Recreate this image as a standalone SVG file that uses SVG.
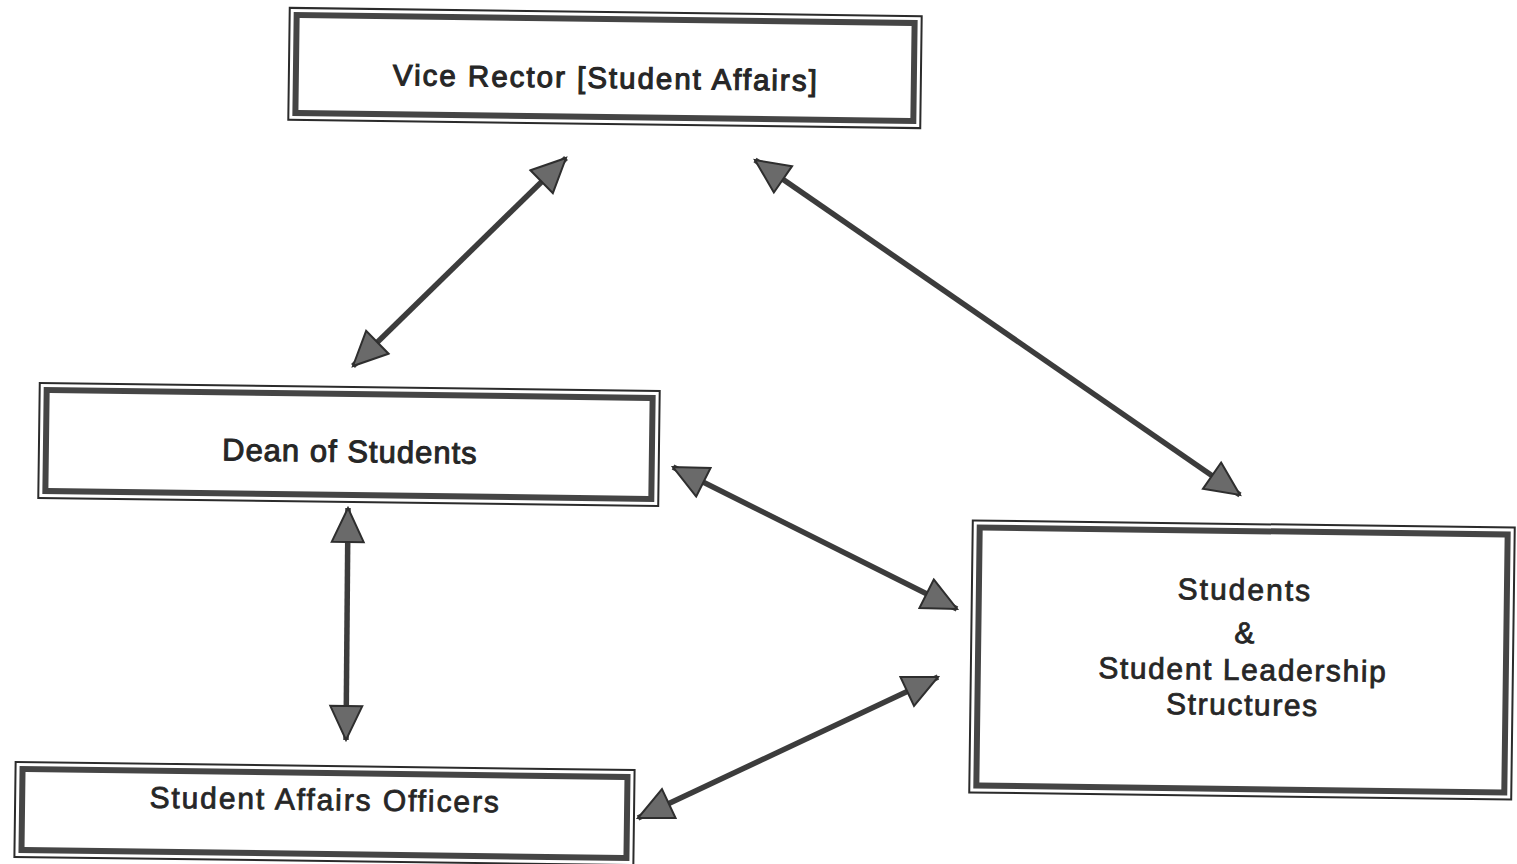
<svg xmlns="http://www.w3.org/2000/svg" width="1517" height="864" viewBox="0 0 1517 864">
  <style>
    .outer { fill: none; stroke: #2b2b2b; stroke-width: 2; }
    .inner { fill: #ffffff; stroke: #454545; stroke-width: 6; }
    .label { font-family: "Liberation Sans", Arial, sans-serif; font-size: 30px; fill: #262626; stroke: #262626; stroke-width: 0.8; text-anchor: middle; }
    .link { stroke: #3c3c3c; stroke-width: 5.5; fill: none; marker-start: url(#head); marker-end: url(#head); }
  </style>
  <defs>
    <marker id="head" markerUnits="userSpaceOnUse" markerWidth="40" markerHeight="40" viewBox="-2 -20 40 40" refX="34" refY="0" orient="auto-start-reverse">
      <path d="M0,-16 L34,0 L0,16 Z" fill="#6a6a6a" stroke="#2e2e2e" stroke-width="2" stroke-linejoin="miter"/>
    </marker>
  </defs>
  <rect width="1517" height="864" fill="#ffffff"/>

  <g id="connectors">
    <line class="link" x1="353" y1="366" x2="566" y2="158"/>
    <line class="link" x1="755" y1="160" x2="1240" y2="495"/>
    <line class="link" x1="673" y1="467" x2="957" y2="609"/>
    <line class="link" x1="348" y1="508" x2="346" y2="740"/>
    <line class="link" x1="638" y1="818" x2="938" y2="677"/>
  </g>

  <g id="vice-rector" transform="rotate(0.75 605 68)">
    <rect class="outer" x="289" y="12" width="632" height="112"/>
    <rect class="inner" x="296" y="19" width="618" height="98"/>
    <text class="label" x="606" y="88" style="font-size:29.5px; letter-spacing:2px; stroke-width:1.1">Vice Rector [Student Affairs]</text>
  </g>

  <g id="dean-of-students" transform="rotate(0.75 349 444)">
    <rect class="outer" x="39" y="387" width="620" height="115"/>
    <rect class="inner" x="46" y="394" width="606" height="101"/>
    <text class="label" x="350" y="462" style="font-size:31px; letter-spacing:1px; stroke-width:1">Dean of Students</text>
  </g>

  <g id="student-affairs-officers" transform="rotate(0.75 324.5 813)">
    <rect class="outer" x="15" y="766" width="619" height="95"/>
    <rect class="inner" x="22" y="773" width="605" height="81"/>
    <text class="label" x="325" y="810" style="letter-spacing:1.9px">Student Affairs Officers</text>
  </g>

  <g id="students-leadership" transform="rotate(0.75 1242 660)">
    <rect class="outer" x="971" y="524" width="542" height="272"/>
    <rect class="inner" x="978" y="531" width="528" height="258"/>
    <text class="label" x="1244" y="600" style="letter-spacing:2px">Students</text>
    <text class="label" x="1244" y="643">&amp;</text>
    <text class="label" x="1243" y="680" style="letter-spacing:1.6px">Student Leadership</text>
    <text class="label" x="1243" y="715" style="letter-spacing:1.6px">Structures</text>
  </g>
</svg>
